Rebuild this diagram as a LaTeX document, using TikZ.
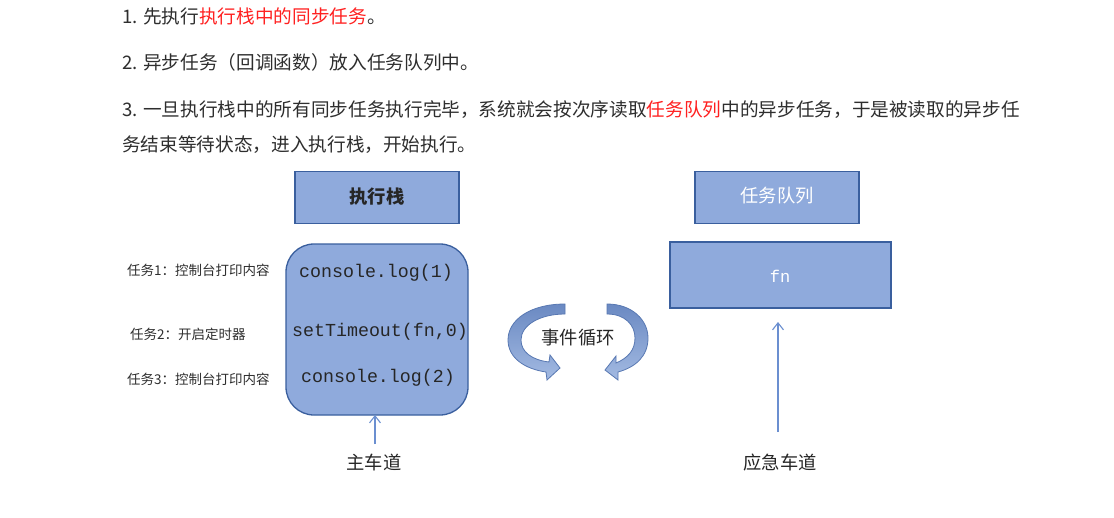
\documentclass[tikz,border=0pt]{standalone}
\usepackage{fontspec}
\setmainfont{Noto Sans CJK SC}
\newfontfamily\monof{Liberation Mono}
\usetikzlibrary{arrows.meta}
\definecolor{txt}{HTML}{2E2E2E}
\definecolor{redt}{HTML}{FF2020}
\definecolor{boxfill}{HTML}{8FAADC}
\definecolor{boxline}{HTML}{3A5F9E}
\definecolor{arrowc}{HTML}{6B8FD0}
\definecolor{loopdark}{HTML}{6A89C2}
\definecolor{looplight}{HTML}{A3BAE2}
\definecolor{loopline}{HTML}{5878B2}
\tikzset{
  para/.style={anchor=west,inner sep=0pt,text=txt,font=\fontsize{18.65pt}{22pt}\selectfont},
  tasklbl/.style={anchor=west,inner sep=0pt,text=txt,font=\fontsize{13.5pt}{16pt}\selectfont},
  codetxt/.style={inner sep=0pt,text=black!85,font=\monof\fontsize{18.3pt}{22pt}\selectfont},
  bluebox/.style={draw=boxline,fill=boxfill,line width=1.3pt,inner sep=0pt},
  captxt/.style={inner sep=0pt,text=black!85,font=\fontsize{18.3pt}{22pt}\selectfont},
  upline/.style={draw=arrowc,line width=1.2pt,-{Straight Barb[length=7pt,width=11pt,line width=1.1pt]}},
  looparrow/.style={draw=loopline,line width=0.8pt,top color=loopdark,bottom color=looplight}
}
\begin{document}
\begin{tikzpicture}[x=1pt,y=-1pt]
\useasboundingbox (0,0) rectangle (1114,517);
\fill[white] (0,0) rectangle (1114,517);
% paragraphs
\node[para] (p1) at (122,16) {1. 先执行\textcolor{redt}{执行栈中的同步任务}。};
\node[para] (p2) at (122,62) {2. 异步任务（回调函数）放入任务队列中。};
\node[para] (p3) at (122,110) {3. 一旦执行栈中的所有同步任务执行完毕，系统就会按次序读取\textcolor{redt}{任务队列}中的异步任务，于是被读取的异步任};
\node[para] (p4) at (122,145) {务结束等待状态，进入执行栈，开始执行。};
% execution stack
\node[bluebox,minimum width=164pt,minimum height=52pt] (stackhead) at (377,197.5) {};
\node[captxt,font=\bfseries\fontsize{18.3pt}{22pt}\selectfont] (stacklbl) at (377,197) {执行栈};
\draw[bluebox,rounded corners=28pt] (286,244) rectangle (468,415);
\coordinate (stackbot) at (375,415);
\node[codetxt] (c1) at (376,273) {console.log(1)};
\node[codetxt] (c2) at (380,332) {setTimeout(fn,0)};
\node[codetxt] (c3) at (378,378) {console.log(2)};
% task labels
\node[tasklbl] (t1) at (127,270) {任务1：控制台打印内容};
\node[tasklbl] (t2) at (130,334) {任务2：开启定时器};
\node[tasklbl] (t3) at (127,379) {任务3：控制台打印内容};
% main lane
\node[captxt] (mainlane) at (374,462) {主车道};
\coordinate (mainstart) at (375,444);
\draw[upline] (mainstart) -- (stackbot);
% task queue
\node[bluebox,minimum width=164pt,minimum height=52pt] (qhead) at (777,197.5) {};
\node[captxt,text=white] (qlbl) at (777,196) {任务队列};
\node[bluebox,minimum width=221pt,minimum height=66pt] (fnbox) at (780.5,275) {};
\node[codetxt,text=white,font=\monof\fontsize{17pt}{20pt}\selectfont] (fnlbl) at (780,276) {fn};
\node[captxt] (emlane) at (780,463) {应急车道};
\coordinate (emstart) at (778,432);
\coordinate (emend) at (778,322);
\draw[upline] (emstart) -- (emend);
% event loop
\node[captxt] (loop) at (578,338) {事件循环};
\path[looparrow] (565,304) .. controls (530,304) and (508,320) .. (508,340)
  .. controls (508,358) and (525,369) .. (546,372) -- (547,380) -- (560,368) -- (550,355) -- (549,362)
  .. controls (532,360) and (521,352) .. (521,340)
  .. controls (521,325) and (540,314) .. (565,314) -- cycle;
\path[looparrow] (607,304) .. controls (632,304) and (648,320) .. (648,338)
  .. controls (648,356) and (636,367) .. (618,372) -- (618,380) -- (605,370) -- (616,356) -- (616,363)
  .. controls (628,358) and (635,350) .. (635,338)
  .. controls (635,325) and (625,314) .. (607,314) -- cycle;
\end{tikzpicture}
\end{document}
